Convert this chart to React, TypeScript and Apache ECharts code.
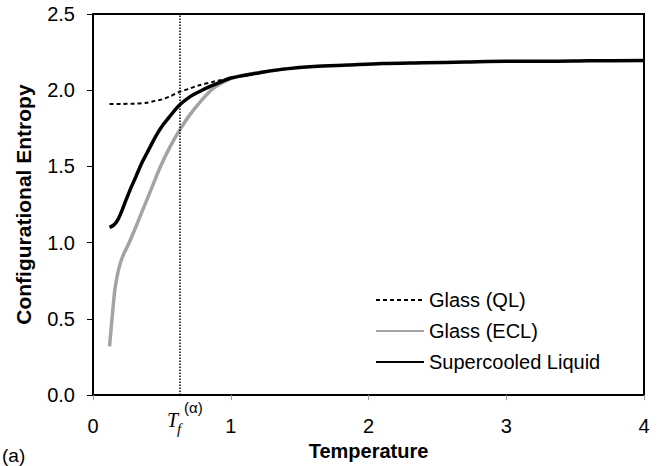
import React, { useEffect, useRef } from "react";
import * as echarts from "echarts";

const tempQL = [0.12, 0.2, 0.3, 0.39, 0.45, 0.5, 0.56, 0.63, 0.7, 0.76, 0.88, 1.0, 1.1, 1.2];
const entropyQL = [1.91, 1.91, 1.912, 1.918, 1.93, 1.94, 1.96, 1.99, 2.01, 2.03, 2.057, 2.08, 2.1, 2.11];

const tempECL = [0.12, 0.13, 0.14, 0.15, 0.16, 0.18, 0.2, 0.225, 0.25, 0.3, 0.35, 0.42, 0.49, 0.56, 0.63, 0.7, 0.78, 0.87, 0.97, 1.07, 1.2, 1.4];
const entropyECL = [0.32, 0.42, 0.52, 0.62, 0.7, 0.8, 0.87, 0.93, 0.975, 1.08, 1.19, 1.345, 1.5, 1.63, 1.74, 1.835, 1.925, 2.01, 2.065, 2.095, 2.115, 2.14];

const tempSL = [0.12, 0.15, 0.18, 0.21, 0.24, 0.27, 0.31, 0.35, 0.39, 0.43, 0.47, 0.51, 0.55, 0.59, 0.63, 0.7, 0.77, 0.85, 0.93, 1.0, 1.12, 1.24, 1.4, 1.6, 1.85, 2.1, 2.4, 2.7, 3.0, 3.3, 3.6, 4.0];
const entropySL = [1.1, 1.115, 1.15, 1.21, 1.28, 1.348, 1.43, 1.515, 1.585, 1.655, 1.72, 1.775, 1.82, 1.865, 1.905, 1.955, 1.99, 2.025, 2.055, 2.08, 2.1, 2.12, 2.14, 2.155, 2.165, 2.175, 2.18, 2.185, 2.19, 2.19, 2.193, 2.195];

const seriesNames = ["Glass (QL)", "Glass (ECL)", "Supercooled Liquid"];
const tfValue = 0.634;
const xTicks = [0, 1, 2, 3, 4];
const yTickLabels = ["0.0", "0.5", "1.0", "1.5", "2.0", "2.5"];

const pair = (xs: number[], ys: number[]) => xs.map((x, i) => [x, ys[i]]);

const SANS = "'Liberation Sans', Arial, Helvetica, sans-serif";
const SERIF = "'Liberation Serif', 'Times New Roman', serif";

export default function App() {
  const ref = useRef<HTMLDivElement>(null);
  useEffect(() => {
    if (!ref.current) return;
    const chart = echarts.init(ref.current, undefined, { renderer: "svg" });
    chart.setOption({
      animation: false,
      backgroundColor: "#fff",
      textStyle: { fontFamily: SANS },
      grid: { left: 93, top: 14, right: 21, bottom: 70, show: true, borderColor: "#000", borderWidth: 2, backgroundColor: "transparent" },
      xAxis: {
        type: "value",
        min: 0,
        max: 4,
        interval: 1,
        name: "Temperature",
        nameLocation: "middle",
        nameGap: 43,
        nameTextStyle: { fontSize: 20, fontWeight: "bold", color: "#000", fontFamily: SANS },
        axisLine: { lineStyle: { color: "#000", width: 2 } },
        axisTick: { show: true, inside: false, length: 5, lineStyle: { color: "#999" } },
        axisLabel: { fontSize: 20, color: "#000", margin: 21, formatter: (v: number) => (xTicks.includes(v) ? String(v) : "") },
        splitLine: { show: false },
      },
      yAxis: {
        type: "value",
        min: 0,
        max: 2.5,
        interval: 0.5,
        name: "Configurational Entropy",
        nameLocation: "middle",
        nameGap: 59,
        nameTextStyle: { fontSize: 21, fontWeight: "bold", color: "#000", fontFamily: SANS },
        axisLine: { lineStyle: { color: "#000", width: 2 } },
        axisTick: { show: true, inside: false, length: 6, lineStyle: { color: "#000" } },
        axisLabel: { fontSize: 20, color: "#000", margin: 18, formatter: (v: number) => yTickLabels[Math.round(v / 0.5)] ?? "" },
        splitLine: { show: false },
      },
      legend: {
        orient: "vertical",
        left: 375,
        top: 290,
        padding: 0,
        itemWidth: 48,
        itemHeight: 14,
        itemGap: 11,
        itemStyle: { opacity: 0 },
        textStyle: { fontSize: 20, color: "#000", fontFamily: SANS },
        data: seriesNames,
      },
      series: [
        {
          name: seriesNames[1],
          type: "line",
          data: pair(tempECL, entropyECL),
          smooth: 0.3,
          showSymbol: false,
          symbol: "none",
          lineStyle: { color: "#a3a3a3", width: 3.5 },
          itemStyle: { color: "#a3a3a3" },
          z: 2,
        },
        {
          name: seriesNames[0],
          type: "line",
          data: pair(tempQL, entropyQL),
          smooth: 0.3,
          showSymbol: false,
          symbol: "none",
          lineStyle: { color: "#000", width: 2, type: [4, 3] },
          itemStyle: { color: "#000" },
          z: 3,
          markLine: {
            silent: true,
            symbol: ["none", "none"],
            label: { show: false },
            lineStyle: { color: "#000", width: 1.5, type: [1.5, 1.5] },
            data: [{ xAxis: tfValue }],
          },
        },
        {
          name: seriesNames[2],
          type: "line",
          data: pair(tempSL, entropySL),
          smooth: 0.3,
          showSymbol: false,
          symbol: "none",
          lineStyle: { color: "#000", width: 3.5 },
          itemStyle: { color: "#000" },
          z: 4,
        },
      ],
      graphic: [
        { type: "text", left: 167, top: 410, style: { text: "T", font: `italic 20px ${SERIF}`, fill: "#000" } },
        { type: "text", left: 177, top: 421, style: { text: "f", font: `italic 15px ${SERIF}`, fill: "#000" } },
        { type: "text", left: 184, top: 400, style: { text: "(α)", font: `15px ${SANS}`, fill: "#000" } },
        { type: "text", left: 2, top: 446, style: { text: "(a)", font: `19px ${SANS}`, fill: "#000" } },
      ],
    });
    return () => chart.dispose();
  }, []);
  return <div ref={ref} style={{ width: 665, height: 466, position: "absolute", left: 0, top: 0 }} />;
}
